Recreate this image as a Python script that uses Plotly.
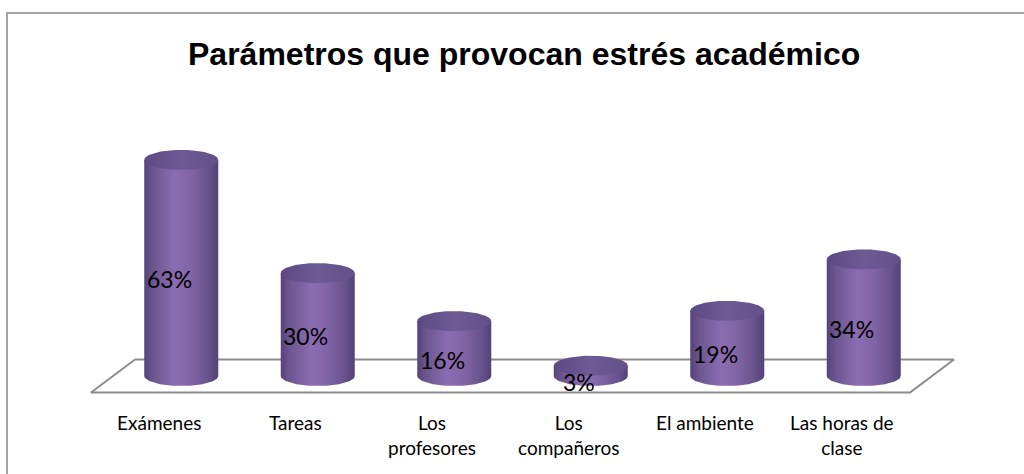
import numpy as np
import plotly.graph_objects as go

# ---- data ----
categories = ["Exámenes", "Tareas", "Los<br>profesores", "Los<br>compañeros", "El ambiente", "Las horas de<br>clase"]
values = [63, 30, 16, 3, 19, 34]
title_text = "Parámetros que provocan estrés académico"

# ---- geometry (pixel-based mapping) ----
W, H = 1024, 474
X0PX, XSTEP = 181.25, 136.5      # pixel of category 0 centre, px per category
Y0PX, YSTEP = 376.0, 3.43        # pixel of value 0, px per percent
x_range = [-X0PX / XSTEP, (W - X0PX) / XSTEP]
y_range = [(Y0PX - H) / YSTEP, Y0PX / YSTEP]

half_w = 37 / XSTEP              # cylinder radius in x units
half_h = 10 / YSTEP              # ellipse half-height in y units
depth_dx = 22 / XSTEP            # perspective depth offset
depth_dy = 16.5 / YSTEP

body_grad = dict(type="horizontal", colorscale=[
    [0, "#56437a"], [0.12, "#6c5690"], [0.4, "#8a6cb0"],
    [0.6, "#8466a8"], [0.85, "#6a548e"], [1, "#54417a"]])
top_grad = dict(type="horizontal", colorscale=[
    [0, "#5c4882"], [0.5, "#6e5a95"], [1, "#63508a"]])

fig = go.Figure()

# floor (3D plane frame)
n = len(categories)
fx = [-0.5 + depth_dx, n - 0.5 + depth_dx, n - 0.5 - depth_dx, -0.5 - depth_dx, -0.5 + depth_dx]
fy = [depth_dy, depth_dy, -depth_dy, -depth_dy, depth_dy]
fig.add_trace(go.Scatter(x=fx, y=fy, mode="lines", line=dict(color="#8c8c8c", width=2),
                         hoverinfo="skip", showlegend=False))

t_half = np.linspace(0, np.pi, 60)
t_full = np.linspace(0, 2 * np.pi, 120)
for i, v in enumerate(values):
    c = i
    bx = [c - half_w, c + half_w, c + half_w] + list(c + half_w * np.cos(t_half)) + [c - half_w]
    by = [v, v, 0] + list(-half_h * np.sin(t_half)) + [v]
    fig.add_trace(go.Scatter(x=bx, y=by, mode="lines", fill="toself", line=dict(width=0, color="rgba(0,0,0,0)"),
                             fillgradient=body_grad, hoverinfo="skip", showlegend=False))
    tx = c + half_w * np.cos(t_full)
    ty = v + half_h * np.sin(t_full)
    fig.add_trace(go.Scatter(x=tx, y=ty, mode="lines", fill="toself", line=dict(width=0, color="rgba(0,0,0,0)"),
                             fillgradient=top_grad, hoverinfo="skip", showlegend=False))
    fig.add_annotation(x=c, y=v / 2, xref="x", yref="y", text=f"{v}%", showarrow=False,
                       xshift=-12, yshift=-11, font=dict(family="Lato", size=23, color="#000000"))
    fig.add_annotation(x=c, y=1 - 409 / H, xref="x", yref="paper", text=categories[i], showarrow=False,
                       xshift=-22, yanchor="top", align="center",
                       font=dict(family="Lato", size=19, color="#000000"))

fig.add_annotation(x=523.5 / W, y=1 - 54 / H, xref="paper", yref="paper", text=f"<b>{title_text}</b>",
                   showarrow=False, xanchor="center", yanchor="middle",
                   font=dict(family="Liberation Sans, Arial", size=32, color="#000000"))

# outer chart border
fig.add_shape(type="rect", xref="paper", yref="paper", x0=7 / W, x1=1.02, y0=-0.05, y1=1 - 13 / H,
              line=dict(color="#868686", width=1.5), fillcolor="rgba(0,0,0,0)")

fig.update_layout(
    width=W, height=H, margin=dict(l=0, r=0, t=0, b=0),
    paper_bgcolor="white", plot_bgcolor="white",
    xaxis=dict(range=x_range, visible=False, domain=[0, 1], fixedrange=True),
    yaxis=dict(range=y_range, visible=False, domain=[0, 1], fixedrange=True),
    showlegend=False,
)
fig.write_html("out.html", config={"displayModeBar": False},
               post_script="document.body.style.margin='0px';document.body.style.overflow='hidden';")
